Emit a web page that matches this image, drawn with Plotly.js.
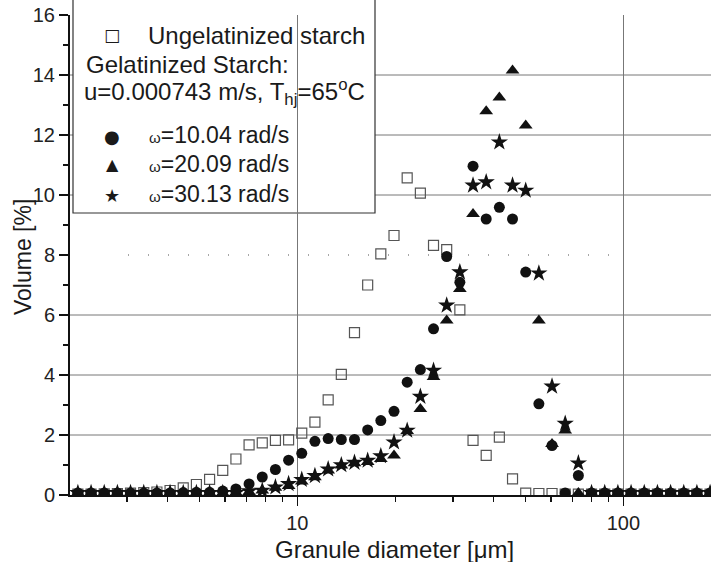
<!DOCTYPE html>
<html>
<head>
<meta charset="utf-8">
<script src="https://cdn.plot.ly/plotly-3.0.1.min.js"></script>
<style>html,body{margin:0;padding:0;background:#fff}#chart{width:711px;height:562px}</style>
</head>
<body>
<div id="chart"></div>
<script>
// Granule diameter bins [µm]
const diameter = [2.122, 2.329, 2.556, 2.805, 3.078, 3.379, 3.708, 4.069, 4.466, 4.901,
  5.379, 5.903, 6.479, 7.110, 7.804, 8.564, 9.399, 10.315, 11.32, 12.43,
  13.64, 14.97, 16.43, 18.03, 19.79, 21.72, 23.84, 26.16, 28.71, 31.51,
  34.58, 37.95, 41.65, 45.71, 50.17, 55.06, 60.42, 66.31, 72.78, 79.87,
  87.66, 96.2, 105.6, 115.9, 127.2, 139.6, 153.2, 168.1, 184.5];

// Volume [%]
const ungelatinized = [0.03, 0.03, 0.04, 0.05, 0.06, 0.08, 0.1, 0.15, 0.24, 0.35,
  0.52, 0.82, 1.2, 1.67, 1.74, 1.82, 1.84, 2.06, 2.43, 3.17,
  4.02, 5.41, 7.0, 8.04, 8.65, 10.57, 10.06, 8.32, 8.18, 6.17,
  1.82, 1.32, 1.93, 0.54, 0.06, 0.05, 0.05, 0.03, 0.03, 0.03,
  0.03, 0.03, 0.03, 0.03, 0.03, 0.03, 0.03, 0.03, 0.03];
const omega1004 = [0.07, 0.07, 0.07, 0.07, 0.07, 0.07, 0.07, 0.07, 0.08, 0.09,
  0.09, 0.13, 0.2, 0.37, 0.6, 0.85, 1.16, 1.39, 1.79, 1.88,
  1.85, 1.85, 2.17, 2.48, 2.79, 3.76, 4.18, 5.54, 7.95, 7.09,
  10.96, 9.2, 9.59, 9.2, 7.43, 3.04, 1.65, 0.07, 0.65, 0.07,
  0.07, 0.07, 0.07, 0.07, 0.07, 0.07, 0.07, 0.07, 0.07];
const omega2009 = [0.07, 0.07, 0.07, 0.07, 0.07, 0.07, 0.07, 0.07, 0.07, 0.07,
  0.07, 0.07, 0.08, 0.1, 0.15, 0.24, 0.3, 0.45, 0.59, 0.82,
  0.98, 1.06, 1.1, 1.2, 1.32, 2.13, 2.87, 3.93, 5.82, 6.87,
  9.37, 12.79, 13.25, 14.15, 12.32, 5.82, 1.7, 2.15, 0.07, 0.07,
  0.07, 0.07, 0.07, 0.07, 0.07, 0.07, 0.07, 0.07, 0.07];
const omega3013 = [0.07, 0.07, 0.07, 0.07, 0.07, 0.07, 0.07, 0.07, 0.07, 0.07,
  0.07, 0.07, 0.07, 0.13, 0.15, 0.26, 0.37, 0.51, 0.64, 0.86,
  1.0, 1.08, 1.15, 1.3, 1.76, 2.15, 3.28, 4.15, 6.32, 7.43,
  10.32, 10.43, 11.76, 10.32, 10.15, 7.39, 3.62, 2.38, 1.06, 0.07,
  0.07, 0.07, 0.07, 0.07, 0.07, 0.07, 0.07, 0.07, 0.07];

const seriesNames = ['Ungelatinized starch', 'ω=10.04 rad/s', 'ω=20.09 rad/s', 'ω=30.13 rad/s'];
const xTickVals = [10, 100];
const xTickText = ['10', '100'];
const xMinorVals = [2, 3, 4, 5, 6, 7, 8, 9, 20, 30, 40, 50, 60, 70, 80, 90, 200];
const yGridVals = [2, 4, 6, 10, 12, 14];
const yDottedGrid = 8;
const xTitle = 'Granule diameter [μm]';
const yTitle = 'Volume [%]';

const FONT = 'Liberation Sans, Arial, Helvetica, sans-serif';
const SYMF = 'DejaVu Sans, sans-serif';
const INK = '#111';

const M = {l: 70, r: 0, t: 15, b: 67};
const PW = 711 - M.l - M.r, PH = 562 - M.t - M.b;
const px = x => (x - M.l) / PW;
const py = y => (562 - M.b - y) / PH;

const traces = [
  {x: diameter, y: ungelatinized, name: seriesNames[0], mode: 'markers', type: 'scatter',
   marker: {symbol: 'square-open', size: 10, color: '#555', line: {width: 1.2, color: '#555'}}},
  {x: diameter, y: omega1004, name: seriesNames[1], mode: 'markers', type: 'scatter',
   marker: {symbol: 'circle', size: 11, color: INK}},
  {x: diameter, y: omega2009, name: seriesNames[2], mode: 'markers', type: 'scatter',
   marker: {symbol: 'triangle-up', size: 12, color: INK}},
  {x: diameter, y: omega3013, name: seriesNames[3], mode: 'markers', type: 'scatter',
   marker: {symbol: 'star', size: 13, color: INK}}
];

const shapes = [];
yGridVals.forEach(v => shapes.push({type: 'line', xref: 'paper', yref: 'y', x0: 0, x1: 1, y0: v, y1: v,
  line: {color: '#777', width: 1}, layer: 'between'}));
shapes.push({type: 'line', xref: 'paper', yref: 'y', x0: px(128), x1: px(623), y0: yDottedGrid, y1: yDottedGrid,
  line: {color: '#8a8a8a', width: 1.5, dash: '1px,19px'}, layer: 'between'});
// legend frame
shapes.push({type: 'rect', xref: 'paper', yref: 'paper', x0: px(73), x1: px(375), y0: py(213), y1: 1.3,
  line: {color: '#333', width: 1.2}, fillcolor: '#fff', layer: 'between'});

const txt = (x, y, text, size, xanchor, family, angle) => ({xref: 'paper', yref: 'paper', x: px(x), y: py(y),
  text: text, showarrow: false, xanchor: xanchor || 'left', yanchor: 'middle', textangle: angle || 0,
  font: {family: family || FONT, size: size || 24, color: '#1a1a1a'}});
const omega = '<span style="font-size:15px">ω</span>';

const annotations = [
  txt(112, 35, '□', 17, 'center', SYMF),
  txt(146, 36, seriesNames[0]),
  txt(84, 65, 'Gelatinized Starch:'),
  txt(82, 92, 'u=0.000743 m/s, T<sub>hj</sub>=65<sup>o</sup>C'),
  txt(112, 136, '●', 18, 'center', SYMF),
  txt(147, 135, omega + seriesNames[1].slice(1), 23),
  txt(112, 164, '▲', 16, 'center', SYMF),
  txt(147, 164, omega + seriesNames[2].slice(1), 23),
  txt(112, 195, '★', 18, 'center', SYMF),
  txt(147, 194, omega + seriesNames[3].slice(1), 23),
  txt(395, 549, xTitle, 24, 'center'),
  txt(23, 257, yTitle, 23, 'center', FONT, -90)
];

const layout = {
  width: 711, height: 562, margin: M, showlegend: false,
  paper_bgcolor: '#fff', plot_bgcolor: '#fff',
  font: {family: FONT, color: '#1a1a1a'},
  xaxis: {type: 'log', range: [Math.log10(2.007), Math.log10(185.7)],
    tickmode: 'array', tickvals: xTickVals, ticktext: xTickText,
    ticks: 'outside', ticklen: 9, tickwidth: 1.3, tickcolor: '#111',
    showline: true, linecolor: '#111', linewidth: 2, mirror: false,
    showgrid: true, gridcolor: '#777', gridwidth: 1, zeroline: false,
    minor: {tickmode: 'array', tickvals: xMinorVals, ticks: 'outside', ticklen: 5, tickwidth: 1.2, tickcolor: '#111', showgrid: false},
    tickfont: {family: FONT, size: 20, color: '#222'}},
  yaxis: {range: [0, 16], tickmode: 'linear', tick0: 0, dtick: 2,
    ticks: 'outside', ticklen: 9, tickwidth: 1.3, tickcolor: '#111',
    showline: true, linecolor: '#111', linewidth: 2,
    showgrid: false, zeroline: false,
    minor: {dtick: 1, ticks: 'outside', ticklen: 5, tickwidth: 1.2, tickcolor: '#111', showgrid: false},
    tickfont: {family: FONT, size: 20, color: '#222'}},
  shapes: shapes,
  annotations: annotations
};

Plotly.newPlot('chart', traces, layout, {staticPlot: true, displayModeBar: false});
</script>
</body>
</html>
